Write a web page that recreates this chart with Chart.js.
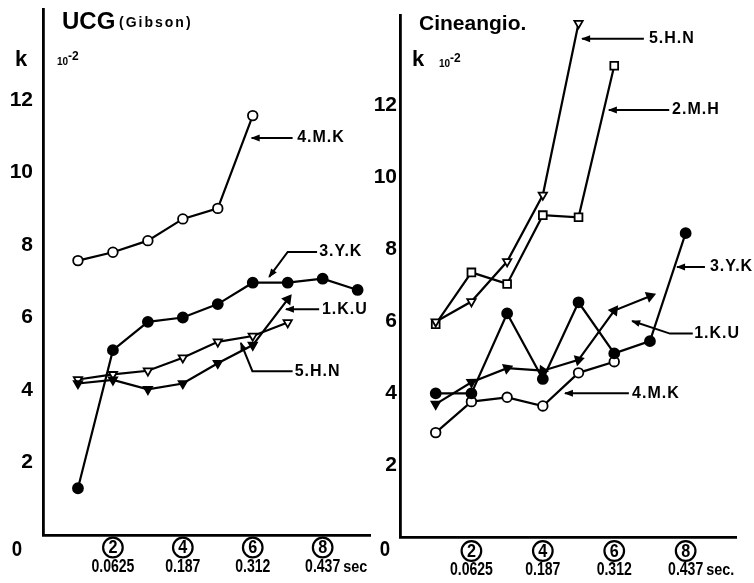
<!DOCTYPE html>
<html><head><meta charset="utf-8">
<script src="https://cdn.jsdelivr.net/npm/chart.js@4"></script>
<style>
html,body{margin:0;padding:0;background:#fff;}
#wrap{position:relative;width:754px;height:583px;overflow:hidden;background:#fff;}
#c1{position:absolute;left:0;top:0;}
#c2{position:absolute;left:357px;top:0;}
</style></head><body>
<div id="wrap"><canvas id="c1" width="377" height="583"></canvas><canvas id="c2" width="397" height="583"></canvas></div>
<script>
// ---------- data ----------
const xIndex = [1, 2, 3, 4, 5, 6, 7, 8, 9];
// UCG (Gibson) panel
const ucg_4MK = [7.57, 7.80, 8.12, 8.72, 9.01, 11.57];
const ucg_3YK = [1.29, 5.10, 5.88, 6.00, 6.37, 6.96, 6.96, 7.07, 6.76];
const ucg_1KU = [4.18, 4.28, 4.02, 4.18, 4.74, 5.24, 6.50];
const ucg_5HN = [4.29, 4.43, 4.53, 4.89, 5.33, 5.49, 5.86];
// Cineangio panel
const cine_5HN = [5.98, 6.54, 7.65, 9.50, 14.27];
const cine_2MH = [5.91, 7.35, 7.03, 8.94, 8.88, 13.09];
const cine_3YK = [3.99, 3.99, 6.21, 4.39, 6.52, 5.10, 5.44, 8.44];
const cine_1KU = [3.69, 4.30, 4.69, 4.62, 4.92, 6.29, 6.69];
const cine_4MK = [2.90, 3.76, 3.88, 3.64, 4.56, 4.87];
// ticks
const yTicks = [0, 2, 4, 6, 8, 10, 12];
const xTickIndex = [2, 4, 6, 8];
const xTickTimes = ['0.0625', '0.187', '0.312', '0.437'];

const FONT = "'Liberation Sans', Arial, sans-serif";
const xy = vals => vals.map((v, i) => ({x: xIndex[i], y: v}));

function txt(ctx, s, x, y, font, o = {}) {
  ctx.save();
  ctx.font = font;
  ctx.letterSpacing = o.ls || '0px';
  ctx.textAlign = o.align || 'left';
  ctx.textBaseline = o.base || 'middle';
  ctx.fillStyle = '#000';
  ctx.translate(x, y);
  ctx.scale(o.sx || 1, 1);
  ctx.fillText(s, 0, 0);
  const w = ctx.measureText(s).width * (o.sx || 1);
  ctx.restore();
  return w;
}

const deco = {
  id: 'deco',
  afterDraw(chart, args, o) {
    const {ctx, scales: {x, y}} = chart;
    const X = v => x.getPixelForValue(v), Y = v => y.getPixelForValue(v);
    const bottom = y.getPixelForValue(0);
    ctx.save();
    ctx.fillStyle = '#000'; ctx.strokeStyle = '#000';
    (o.texts || []).forEach(t => txt(ctx, t.text, t.x, t.y, t.font, t));
    txt(ctx, '0', o.zeroX, bottom + o.zeroDy, 'bold 22px ' + FONT, {align: 'center', sx: 0.85});
    xTickIndex.forEach((k, i) => {
      const cx = X(k), cy = bottom + o.circDy;
      ctx.beginPath(); ctx.lineWidth = 2.2; ctx.arc(cx, cy, 9.8, 0, Math.PI * 2); ctx.stroke();
      txt(ctx, String(k), cx, cy + 1, 'bold 18px ' + FONT, {align: 'center', sx: 0.9});
      const w = txt(ctx, xTickTimes[i], cx, bottom + o.timeDy, 'bold 19px ' + FONT, {align: 'center', sx: 0.74});
      if (i === xTickTimes.length - 1) {
        txt(ctx, o.secText, cx + w / 2 + 3, bottom + o.timeDy, 'bold 17px ' + FONT, {sx: 0.85});
      }
    });
    (o.notes || []).forEach(n => {
      txt(ctx, n.text, X(n.at[0]), Y(n.at[1]), 'bold 16px ' + FONT, {ls: '1px'});
      const pts = n.path.map(p => [X(p[0]), Y(p[1])]);
      ctx.beginPath(); ctx.lineWidth = 2;
      pts.forEach((p, i) => i ? ctx.lineTo(p[0], p[1]) : ctx.moveTo(p[0], p[1]));
      ctx.stroke();
      const a = pts[pts.length - 1], b = pts[pts.length - 2];
      const ang = Math.atan2(a[1] - b[1], a[0] - b[0]);
      ctx.save(); ctx.translate(a[0], a[1]); ctx.rotate(ang);
      ctx.beginPath(); ctx.moveTo(1, 0); ctx.lineTo(-8, -3.5); ctx.lineTo(-8, 3.5); ctx.closePath(); ctx.fill();
      ctx.restore();
    });
    ctx.restore();
  }
};

function dirRotation(c, fallback, onlyLast) {
  const i = c.dataIndex, d = c.dataset.data;
  if (i === 0) return fallback;
  if (onlyLast && i !== d.length - 1) return fallback;
  const xs = c.chart.scales.x, ys = c.chart.scales.y;
  const dx = xs.getPixelForValue(d[i].x) - xs.getPixelForValue(d[i - 1].x);
  const dy = ys.getPixelForValue(d[i].y) - ys.getPixelForValue(d[i - 1].y);
  return Math.atan2(dx, -dy) * 180 / Math.PI;
}

function ds(vals, style, filled, extra = {}) {
  return Object.assign({
    data: xy(vals), borderColor: '#000', borderWidth: 2.2, tension: 0,
    pointStyle: style, pointRadius: style === 'rect' ? 5.5 : 4.8,
    pointBackgroundColor: filled ? '#000' : '#fff', pointBorderColor: '#000',
    pointBorderWidth: 1.8, fill: false
  }, extra);
}

function makeChart(canvas, datasets, cfg) {
  return new Chart(canvas, {
    type: 'line',
    data: {datasets},
    options: {
      responsive: false, animation: false, devicePixelRatio: 1,
      layout: {padding: {top: cfg.padTop, right: cfg.padRight, left: 0, bottom: 0}},
      plugins: {legend: {display: false}, tooltip: {enabled: false}, deco: cfg.deco},
      scales: {
        x: {
          type: 'linear', min: 0, max: cfg.xMax,
          grid: {display: false, drawTicks: false},
          border: {color: '#000', width: 2.8},
          ticks: {display: false},
          afterFit: s => { s.height = cfg.bottomH; s.paddingLeft = 0; s.paddingRight = 0; }
        },
        y: {
          type: 'linear', min: 0, max: 14.5,
          afterBuildTicks: s => { s.ticks = yTicks.map(v => ({value: v})); },
          grid: {display: false, drawTicks: false},
          border: {color: '#000', width: 2.8},
          ticks: {
            callback: v => v === 0 ? '' : String(v),
            color: '#000', padding: cfg.tickPad,
            font: {family: FONT, size: 21, weight: 'bold'}
          },
          afterFit: s => { s.width = 43; s.paddingTop = 0; s.paddingBottom = 0; }
        }
      }
    },
    plugins: [deco]
  });
}

makeChart(document.getElementById('c1'), [
  ds(ucg_4MK, 'circle', false),
  ds(ucg_3YK, 'circle', true, {pointRadius: 5}),
  ds(ucg_1KU, 'triangle', true, {pointRotation: c => dirRotation(c, 180, true)}),
  ds(ucg_5HN, 'triangle', false, {pointRotation: 180})
], {
  padTop: 9.4, padRight: 0, xMax: 9.36, bottomH: 48, tickPad: 10,
  deco: {
    zeroX: 17, zeroDy: 15, circDy: 12.5, timeDy: 32, secText: 'sec',
    texts: [
      {text: 'UCG', x: 62, y: 22, font: 'bold 24px ' + FONT},
      {text: '(Gibson)', x: 119, y: 23, font: 'bold 14px ' + FONT, ls: '2px'},
      {text: 'k', x: 15, y: 60, font: 'bold 22px ' + FONT},
      {text: '10', x: 57, y: 62, font: 'bold 10px ' + FONT},
      {text: '-2', x: 68, y: 57, font: 'bold 12px ' + FONT}
    ],
    notes: [
      {text: '4.M.K', at: [7.27, 10.95], path: [[7.14, 10.95], [5.97, 10.95]]},
      {text: '3.Y.K', at: [7.9, 7.81], path: [[7.84, 7.81], [7.0, 7.81], [6.47, 7.12]]},
      {text: '1.K.U', at: [7.98, 6.23], path: [[7.9, 6.23], [6.95, 6.23]]},
      {text: '5.H.N', at: [7.2, 4.52], path: [[7.14, 4.52], [5.99, 4.52], [5.66, 5.3]]}
    ]
  }
});

makeChart(document.getElementById('c2'), [
  ds(cine_5HN, 'triangle', false, {pointRotation: 180}),
  ds(cine_2MH, 'rect', false),
  ds(cine_3YK, 'circle', true, {pointRadius: 5}),
  ds(cine_1KU, 'triangle', true, {pointRotation: c => dirRotation(c, 180, false)}),
  ds(cine_4MK, 'circle', false)
], {
  padTop: 15, padRight: 18, xMax: 9.41, bottomH: 46, tickPad: 3,
  deco: {
    zeroX: 28, zeroDy: 13, circDy: 14, timeDy: 33, secText: 'sec.',
    texts: [
      {text: 'Cineangio.', x: 62, y: 24, font: 'bold 21px ' + FONT},
      {text: 'k', x: 55, y: 60, font: 'bold 22px ' + FONT},
      {text: '10', x: 82, y: 64, font: 'bold 10px ' + FONT},
      {text: '-2', x: 93, y: 59, font: 'bold 12px ' + FONT}
    ],
    notes: [
      {text: '5.H.N', at: [6.97, 13.84], path: [[6.83, 13.84], [5.1, 13.84]]},
      {text: '2.M.H', at: [7.62, 11.86], path: [[7.54, 11.86], [5.85, 11.86]]},
      {text: '3.Y.K', at: [8.68, 7.5], path: [[8.54, 7.5], [7.76, 7.5]]},
      {text: '1.K.U', at: [8.24, 5.65], path: [[8.2, 5.65], [7.56, 5.65], [6.5, 6.0]]},
      {text: '4.M.K', at: [6.5, 3.99], path: [[6.41, 3.99], [4.62, 3.99]]}
    ]
  }
});
</script>
</body></html>
